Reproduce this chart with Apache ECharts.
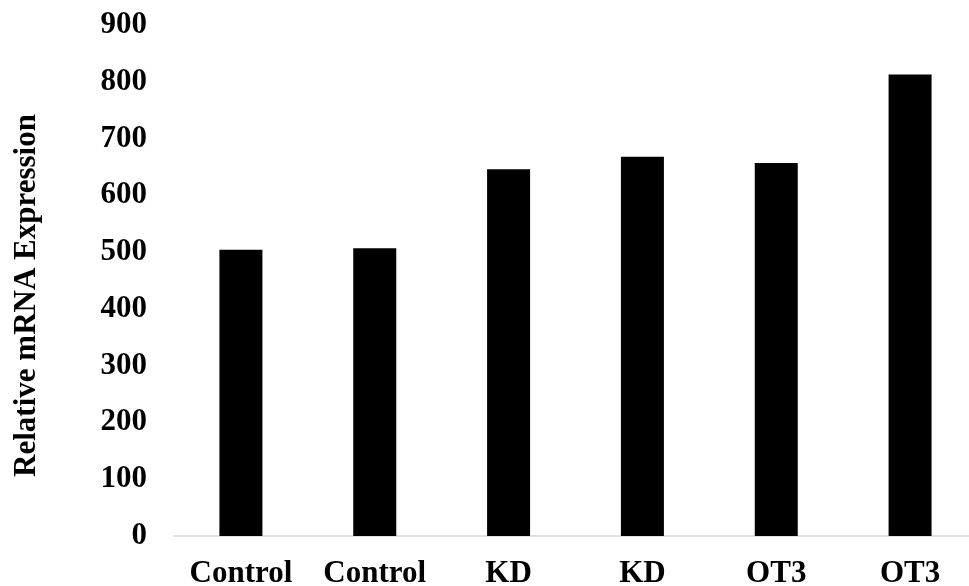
<!DOCTYPE html>
<html>
<head>
<meta charset="utf-8">
<script src="https://cdn.jsdelivr.net/npm/echarts@6/dist/echarts.min.js"></script>
<style>
html,body{margin:0;padding:0;background:#fff;}
#chart{width:969px;height:586px;}
</style>
</head>
<body>
<div id="chart"></div>
<script>
var categories = ['Control', 'Control', 'KD', 'KD', 'OT3', 'OT3'];
var values = [504, 507, 646, 668, 657, 813];
var yTitle = 'Relative mRNA Expression';

var chart = echarts.init(document.getElementById('chart'), null, {renderer: 'canvas'});
var font = '"Liberation Serif", "Times New Roman", serif';
chart.setOption({
  backgroundColor: '#ffffff',
  animation: false,
  grid: {left: 174, right: -8, top: 25, bottom: 50, containLabel: false, outerBoundsMode: 'none'},
  xAxis: {
    type: 'category',
    data: categories,
    axisLine: {show: true, lineStyle: {color: '#d9d9d9', width: 1.5}},
    axisTick: {show: false},
    axisLabel: {color: '#000', fontFamily: font, fontWeight: 'bold', fontSize: 31, margin: 22, interval: 0}
  },
  yAxis: {
    type: 'value',
    min: 0, max: 900, interval: 100,
    name: yTitle,
    nameLocation: 'middle',
    nameGap: 132,
    nameTextStyle: {color: '#000', fontFamily: font, fontWeight: 'bold', fontSize: 31, padding: [0, 30, 0, 0]},
    axisLine: {show: false},
    axisTick: {show: false},
    splitLine: {show: false},
    axisLabel: {color: '#000', fontFamily: font, fontWeight: 'bold', fontSize: 31, margin: 27}
  },
  series: [{
    type: 'bar',
    data: values,
    barWidth: 43,
    itemStyle: {color: '#000000'}
  }]
});
</script>
</body>
</html>
